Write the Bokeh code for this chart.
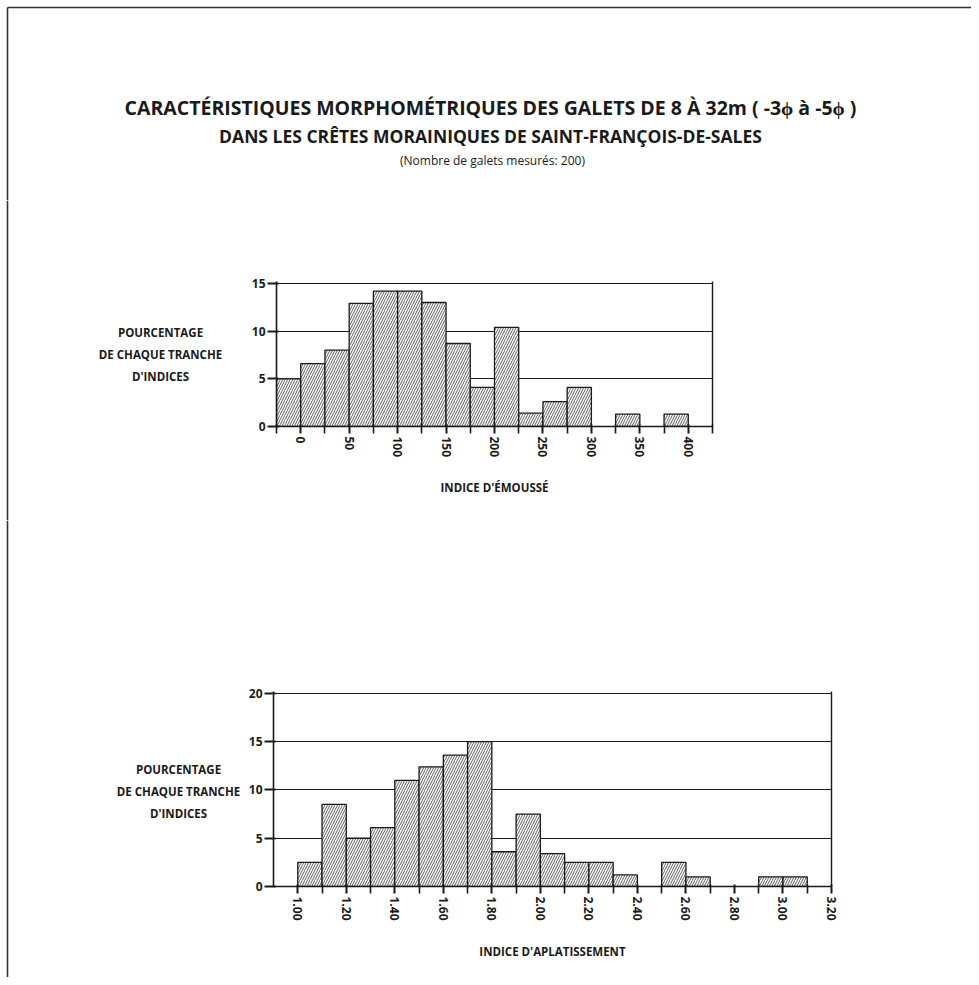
import numpy as np
from bokeh.plotting import figure
from bokeh.models import Range1d, FixedTicker, LinearAxis, NumeralTickFormatter
from bokeh.layouts import column, row
from bokeh.core.properties import value
from bokeh.embed import file_html
from bokeh.resources import INLINE

# ---------------- data ----------------
emousse_bins = [-25, 0, 25, 50, 75, 100, 125, 150, 175, 200, 225, 250, 275, 300, 325, 350, 375, 400]
emousse_pct = [5.0, 6.6, 8.0, 12.9, 14.2, 14.2, 13.0, 8.7, 4.1, 10.4, 1.4, 2.6, 4.1, 0.0, 1.3, 0.0, 1.3, 0.0]
emousse_width = 25
emousse_major = [0, 50, 100, 150, 200, 250, 300, 350, 400]
emousse_minor = [-25, 25, 75, 125, 175, 225, 275, 325, 375, 425]
emousse_yticks = [0, 5, 10, 15]

aplat_bins = [1.0, 1.1, 1.2, 1.3, 1.4, 1.5, 1.6, 1.7, 1.8, 1.9, 2.0,
              2.1, 2.2, 2.3, 2.4, 2.5, 2.6, 2.7, 2.8, 2.9, 3.0, 3.1]
aplat_pct = [2.5, 8.5, 5.0, 6.1, 11.0, 12.4, 13.6, 15.0, 3.6, 7.5, 3.4,
             2.5, 2.5, 1.2, 0.0, 2.5, 1.0, 0.0, 0.0, 1.0, 1.0, 0.0]
aplat_width = 0.1
aplat_major = [1.0, 1.2, 1.4, 1.6, 1.8, 2.0, 2.2, 2.4, 2.6, 2.8, 3.0, 3.2]
aplat_minor = [1.1, 1.3, 1.5, 1.7, 1.9, 2.1, 2.3, 2.5, 2.7, 2.9, 3.1]
aplat_yticks = [0, 5, 10, 15, 20]

title1 = "CARACTÉRISTIQUES MORPHOMÉTRIQUES DES GALETS DE 8 À 32m ( -3ϕ à -5ϕ )"
title2 = "DANS LES CRÊTES MORAINIQUES DE SAINT-FRANÇOIS-DE-SALES"
title3 = "(Nombre de galets mesurés: 200)"
ylab_lines = ["POURCENTAGE", "DE CHAQUE TRANCHE", "D'INDICES"]
xlab1 = "INDICE D'ÉMOUSSÉ"
xlab2 = "INDICE D'APLATISSEMENT"

FONT = "Open Sans"
INK = "#1a1a1a"
FRAME = "#333333"
PAGE_W = 971
LAB_W = 240


def no_align(f):
    try:
        f.frame_align = False
    except Exception:
        pass
    return f


def blank_fig(w, h):
    f = figure(width=w, height=h, x_range=Range1d(0, w), y_range=Range1d(h, 0),
               output_backend="svg", toolbar_location=None, min_border=0)
    f.axis.visible = False
    f.grid.visible = False
    f.outline_line_color = None
    return no_align(f)


# ---------------- header ----------------
HH = 200
header = blank_fig(PAGE_W, HH)
header.line(x=[7, PAGE_W], y=[7, 7], line_color=FRAME, line_width=1.6)
header.line(x=[7, 7], y=[7, HH], line_color=FRAME, line_width=1.6)
header.text(x=[490], y=[107], text=[title1], text_align="center",
            text_baseline="middle", text_font=value(FONT), text_font_style="bold",
            text_font_size="19.5px", text_color=INK)
header.text(x=[490], y=[135], text=[title2], text_align="center",
            text_baseline="middle", text_font=value(FONT), text_font_style="bold",
            text_font_size="17.5px", text_color=INK)
header.text(x=[492], y=[160], text=[title3], text_align="center", text_baseline="middle",
            text_font=value(FONT), text_font_size="12px", text_color=INK)


def label_fig(h, xc, ys):
    f = blank_fig(LAB_W, h)
    f.line(x=[7, 7], y=[0, h], line_color=FRAME, line_width=1.6)
    f.text(x=[xc] * 3, y=ys, text=ylab_lines, text_align="center", text_baseline="middle",
           text_font=value(FONT), text_font_style="bold", text_font_size="11.5px",
           text_color=INK)
    return f


def chart(bins, pct, width, xr, yr, fw, fh, mb, major, minor, yticks, xlabel, fmt=None):
    bins = np.array(bins, dtype=float)
    pct = np.array(pct, dtype=float)
    keep = pct > 0
    p = figure(frame_width=fw, frame_height=fh, x_range=Range1d(*xr), y_range=Range1d(*yr),
               output_backend="svg", toolbar_location=None,
               min_border_left=mb[0], min_border_right=mb[1],
               min_border_top=mb[2], min_border_bottom=mb[3])
    no_align(p)
    p.outline_line_color = None
    p.xgrid.visible = False
    p.ygrid.ticker = FixedTicker(ticks=yticks)
    p.ygrid.grid_line_color = INK
    p.ygrid.grid_line_width = 1.2
    p.quad(left=bins[keep], right=bins[keep] + width, bottom=0, top=pct[keep],
           fill_color="white", line_color=INK, line_width=1.3,
           hatch_pattern="/", hatch_color=INK, hatch_scale=5, hatch_weight=0.7)

    xa = p.xaxis[0]
    xa.ticker = FixedTicker(ticks=major, minor_ticks=minor)
    if fmt is not None:
        xa.formatter = fmt
    xa.major_label_orientation = "vertical"
    xa.major_tick_out = 7
    xa.major_tick_in = 2
    xa.minor_tick_out = 7
    xa.minor_tick_in = 2
    xa.major_tick_line_width = 2
    xa.minor_tick_line_width = 1.6
    xa.major_tick_line_color = INK
    xa.minor_tick_line_color = INK
    xa.axis_line_width = 1.6
    xa.axis_line_color = INK
    xa.major_label_standoff = 3
    xa.major_label_text_font = FONT
    xa.major_label_text_font_style = "bold"
    xa.major_label_text_font_size = "12px"
    xa.major_label_text_color = INK
    xa.axis_label = xlabel
    xa.axis_label_text_font = FONT
    xa.axis_label_text_font_style = "bold"
    xa.axis_label_text_font_size = "11.5px"
    xa.axis_label_text_color = INK
    xa.axis_label_standoff = 20

    ya = p.yaxis[0]
    ya.ticker = FixedTicker(ticks=yticks)
    ya.minor_tick_line_color = None
    ya.major_tick_out = 9
    ya.major_tick_in = 2
    ya.major_tick_line_width = 1.8
    ya.major_tick_line_color = INK
    ya.axis_line_width = 1.6
    ya.axis_line_color = INK
    ya.major_label_standoff = 2
    ya.major_label_text_font = FONT
    ya.major_label_text_font_style = "bold"
    ya.major_label_text_font_size = "12px"
    ya.major_label_text_color = INK

    ra = LinearAxis(ticker=FixedTicker(ticks=yticks))
    ra.major_tick_line_color = None
    ra.minor_tick_line_color = None
    ra.major_label_text_color = None
    ra.major_label_text_font_size = "1px"
    ra.axis_line_width = 1.4
    ra.axis_line_color = INK
    p.add_layout(ra, "right")
    return p


# row 1 : page y 200..520 ; chart frame x 276..712, y 281..426
H1 = 320
lab1 = label_fig(H1, 160, [132, 154, 176])
c1 = chart(emousse_bins, emousse_pct, emousse_width, (-25, 425), (0, 15.2), 436, 145,
           (276 - LAB_W, PAGE_W - 712, 81, 94), emousse_major, emousse_minor,
           emousse_yticks, xlab1)

# row 2 : page y 520..977 ; chart frame x 273..831, y 691..886
H2 = 457
lab2 = label_fig(H2, 178, [249, 271, 293])
c2 = chart(aplat_bins, aplat_pct, aplat_width, (0.9, 3.2), (0, 20.2), 558, 195,
           (273 - LAB_W, PAGE_W - 831, 171, 91), aplat_major, aplat_minor,
           aplat_yticks, xlab2, fmt=NumeralTickFormatter(format="0.00"))

root = column(header, row(lab1, c1), row(lab2, c2))
open("out.html", "w").write(file_html(root, INLINE))
